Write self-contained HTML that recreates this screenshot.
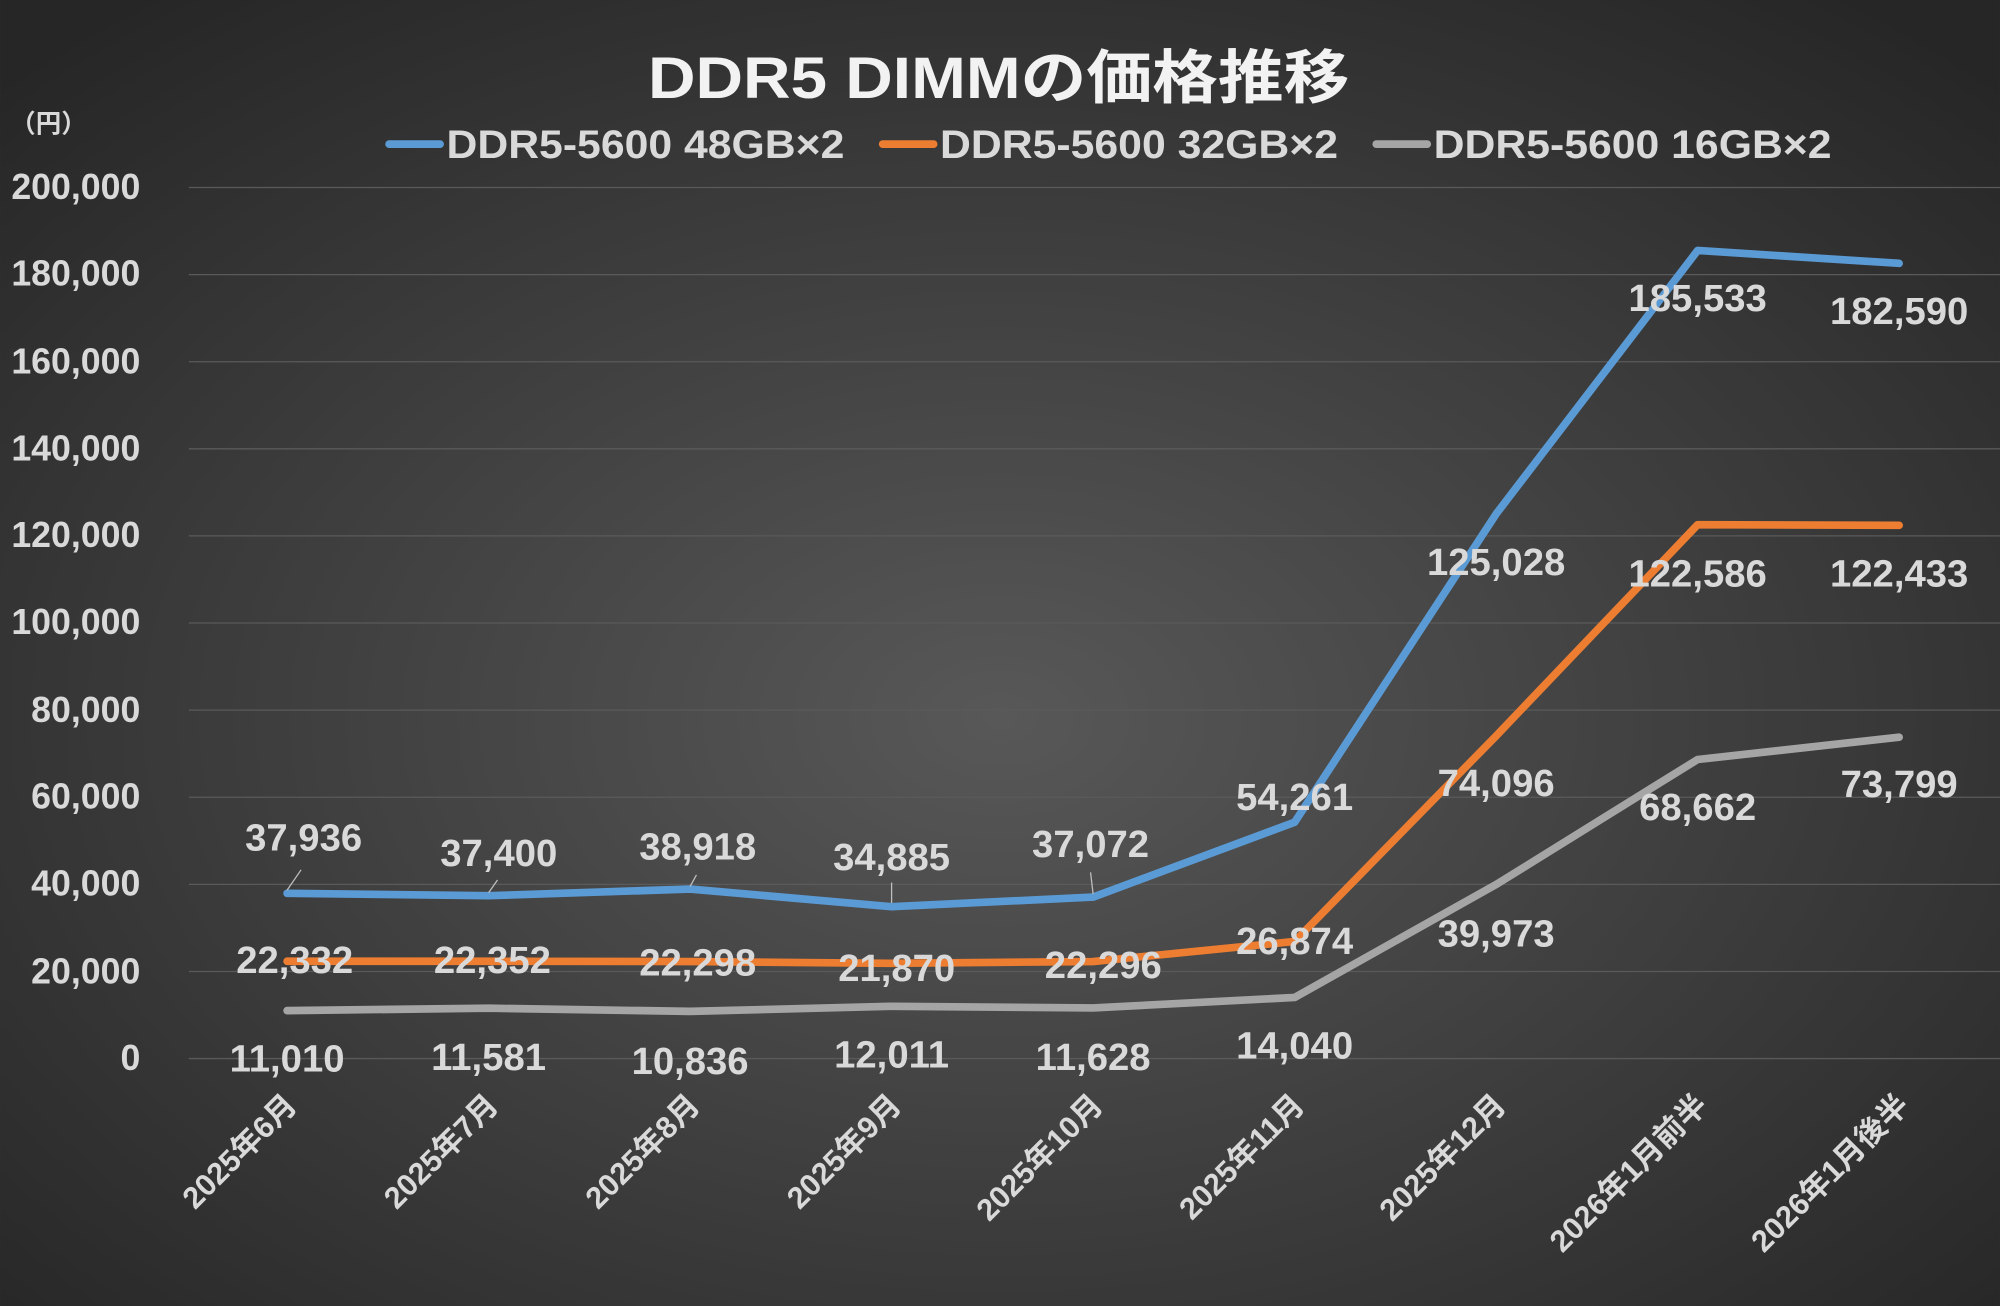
<!DOCTYPE html>
<html><head><meta charset="utf-8"><style>
html,body{margin:0;padding:0;background:#333;}
svg{display:block}
text{font-family:"Liberation Sans","Noto Sans CJK JP",sans-serif;font-weight:bold;}
</style></head><body>
<svg width="2000" height="1306" viewBox="0 0 1568 1024" xmlns="http://www.w3.org/2000/svg">
<defs>
<radialGradient id="bg" cx="50%" cy="55%" r="70%">
<stop offset="0" stop-color="#585858"/>
<stop offset="1" stop-color="#262626"/>
</radialGradient>
</defs>
<rect width="1568" height="1024" fill="url(#bg)"/>
<g stroke="#5a5a5a" stroke-width="1">
<line x1="148" x2="1568" y1="147" y2="147"/><line x1="148" x2="1568" y1="215.3" y2="215.3"/>
<line x1="148" x2="1568" y1="283.6" y2="283.6"/><line x1="148" x2="1568" y1="351.9" y2="351.9"/>
<line x1="148" x2="1568" y1="420.2" y2="420.2"/><line x1="148" x2="1568" y1="488.5" y2="488.5"/>
<line x1="148" x2="1568" y1="556.8" y2="556.8"/><line x1="148" x2="1568" y1="625.1" y2="625.1"/>
<line x1="148" x2="1568" y1="693.4" y2="693.4"/><line x1="148" x2="1568" y1="761.7" y2="761.7"/>
<line x1="148" x2="1568" y1="830" y2="830"/>
</g>
<g fill="#d9d9d9" font-size="28" text-anchor="end">
<text x="110" y="156">200,000</text><text x="110" y="224">180,000</text><text x="110" y="293">160,000</text>
<text x="110" y="361">140,000</text><text x="110" y="429">120,000</text><text x="110" y="497">100,000</text>
<text x="110" y="566">80,000</text><text x="110" y="634">60,000</text><text x="110" y="702">40,000</text>
<text x="110" y="771">20,000</text><text x="110" y="839">0</text>
</g>
<text x="8" y="104" fill="#d9d9d9" font-size="20" font-weight="normal">（円）</text>
<text x="508" y="77" fill="#f2f2f2" font-size="46" textLength="550" lengthAdjust="spacingAndGlyphs">DDR5 DIMMの価格推移</text>
<g font-size="31" fill="#d9d9d9">
<line x1="305" x2="345" y1="113" y2="113" stroke="#5b9bd5" stroke-width="6" stroke-linecap="round"/>
<text x="350" y="124" textLength="312" lengthAdjust="spacingAndGlyphs">DDR5-5600 48GB×2</text>
<line x1="692" x2="732" y1="113" y2="113" stroke="#ed7d31" stroke-width="6" stroke-linecap="round"/>
<text x="737" y="124" textLength="312" lengthAdjust="spacingAndGlyphs">DDR5-5600 32GB×2</text>
<line x1="1079" x2="1119" y1="113" y2="113" stroke="#a5a5a5" stroke-width="6" stroke-linecap="round"/>
<text x="1124" y="124" textLength="312" lengthAdjust="spacingAndGlyphs">DDR5-5600 16GB×2</text>
</g>
<g fill="none" stroke-width="6" stroke-linejoin="round" stroke-linecap="round">
<polyline stroke="#a5a5a5" points="225,792.4 383,790.5 541,793 699,789 857,790.3 1015,782.1 1173,693.5 1331,595.5 1489,578"/>
<polyline stroke="#ed7d31" points="225,753.7 383,753.7 541,753.9 699,755.3 857,753.9 1015,738.2 1173,577 1331,411.4 1489,411.9"/>
<polyline stroke="#5b9bd5" points="225,700.4 383,702.3 541,697.1 699,710.9 857,703.4 1015,644.7 1173,403 1331,196.4 1489,206.5"/>
</g>
<g stroke="#bfbfbf" stroke-width="1">
<line x1="225" y1="698" x2="236" y2="682"/><line x1="383" y1="700" x2="390" y2="690"/>
<line x1="541" y1="695" x2="546" y2="686"/><line x1="699" y1="708" x2="699" y2="692"/>
<line x1="857" y1="701" x2="855" y2="684"/>
</g>
<g fill="#d9d9d9" font-size="30" text-anchor="middle">
<text x="238" y="667">37,936</text><text x="391" y="679">37,400</text><text x="547" y="674">38,918</text>
<text x="699" y="682">34,885</text><text x="855" y="672">37,072</text><text x="1015" y="635">54,261</text>
<text x="1173" y="451">125,028</text><text x="1331" y="244">185,533</text><text x="1489" y="254">182,590</text>
<text x="231" y="763">22,332</text><text x="386" y="763">22,352</text><text x="547" y="765">22,298</text>
<text x="703" y="769">21,870</text><text x="865" y="767">22,296</text><text x="1015" y="748">26,874</text>
<text x="1173" y="624">74,096</text><text x="1331" y="460">122,586</text><text x="1489" y="460">122,433</text>
<text x="225" y="840">11,010</text><text x="383" y="839">11,581</text><text x="541" y="842">10,836</text>
<text x="699" y="837">12,011</text><text x="857" y="839">11,628</text><text x="1015" y="830">14,040</text>
<text x="1173" y="742">39,973</text><text x="1331" y="643">68,662</text><text x="1489" y="625">73,799</text>
</g>
<g fill="#d9d9d9" font-size="24" text-anchor="end">
<text transform="translate(234,868) rotate(-45)">2025年6月</text>
<text transform="translate(392,868) rotate(-45)">2025年7月</text>
<text transform="translate(550,868) rotate(-45)">2025年8月</text>
<text transform="translate(708,868) rotate(-45)">2025年9月</text>
<text transform="translate(866,868) rotate(-45)">2025年10月</text>
<text transform="translate(1024,868) rotate(-45)">2025年11月</text>
<text transform="translate(1182,868) rotate(-45)">2025年12月</text>
<text transform="translate(1340,868) rotate(-45)">2026年1月前半</text>
<text transform="translate(1498,868) rotate(-45)">2026年1月後半</text>
</g>
</svg>
</body></html>
